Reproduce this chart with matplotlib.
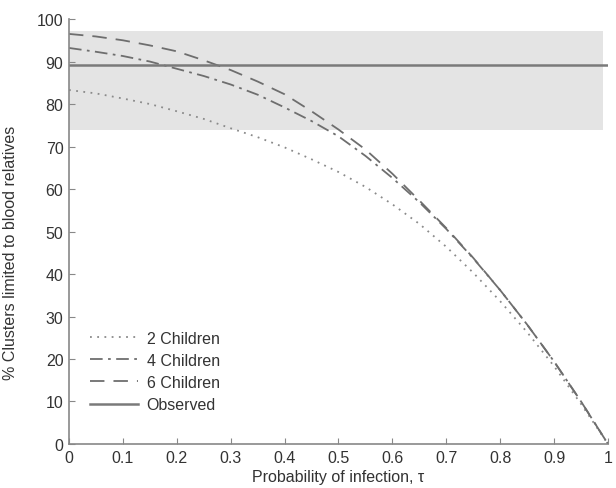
import matplotlib
matplotlib.use("Agg")
import matplotlib.pyplot as plt

plt.rcParams['font.family'] = ['Liberation Sans', 'DejaVu Sans']

# probability of infection
tau = [0.0, 0.05, 0.1, 0.15, 0.2, 0.25, 0.3, 0.35, 0.4, 0.45, 0.5,
       0.55, 0.6, 0.65, 0.7, 0.75, 0.8, 0.85, 0.9, 0.95, 1.0]

# % clusters limited to blood relatives
two_children = [83.3, 82.5, 81.3, 80.0, 78.3, 76.5, 74.3, 72.2, 69.8, 67.0, 64.0,
                60.5, 56.4, 51.8, 46.4, 40.3, 33.6, 26.3, 18.3, 9.4, 0.0]
four_children = [93.2, 92.3, 91.3, 90.0, 88.3, 86.6, 84.6, 82.2, 79.2, 76.0, 72.4,
                 67.8, 62.6, 56.9, 50.6, 43.7, 36.2, 28.1, 19.4, 10.0, 0.0]
six_children = [96.5, 95.9, 95.0, 93.8, 92.4, 90.3, 88.0, 85.3, 82.3, 78.3, 74.0,
                69.3, 63.6, 57.3, 50.8, 43.8, 36.2, 28.1, 19.4, 10.0, 0.0]

observed = 89.2
observed_low = 74.0
observed_high = 97.2

x_ticks = [0, 0.1, 0.2, 0.3, 0.4, 0.5, 0.6, 0.7, 0.8, 0.9, 1]
x_tick_labels = ['0', '0.1', '0.2', '0.3', '0.4', '0.5', '0.6', '0.7', '0.8', '0.9', '1']
y_ticks = [0, 10, 20, 30, 40, 50, 60, 70, 80, 90, 100]

fs = 11.5

fig = plt.figure(figsize=(6.16, 4.89), dpi=100)
ax = fig.add_axes([0.112, 0.09, 0.875, 0.869])

# confidence band of observed value
ax.fill_between([0, 0.99], observed_low, observed_high, color='#e4e4e4', lw=0, zorder=0)

line_col = '#6e6e6e'
ax.plot(tau, two_children, color='#8a8a8a', ls=(0, (1, 3)), lw=1.3, label='2 Children')
ax.plot(tau, four_children, color=line_col, ls=(0, (7, 3, 1.5, 3)), lw=1.3, label='4 Children')
ax.plot(tau, six_children, color=line_col, ls=(0, (8, 5)), lw=1.3, label='6 Children')
ax.plot([0, 1], [observed, observed], color='#7a7a7a', lw=1.8, label='Observed')

ax.set_xlim(0, 1)
ax.set_ylim(0, 100)
ax.set_xticks(x_ticks)
ax.set_xticklabels(x_tick_labels)
ax.set_yticks(y_ticks)

for s in ['top', 'right']:
    ax.spines[s].set_visible(False)
for s in ['left', 'bottom']:
    ax.spines[s].set_color('#888888')
    ax.spines[s].set_linewidth(1.2)
ax.tick_params(direction='in', length=4, color='#888888', labelsize=fs,
               labelcolor='#333333', pad=4)

ax.set_xlabel('Probability of infection, \u03c4', fontsize=fs, color='#333333', labelpad=3)
ax.set_ylabel('% Clusters limited to blood relatives', fontsize=fs, color='#333333')
ax.yaxis.set_label_coords(-0.095, 0.452)

leg = ax.legend(loc='lower left', bbox_to_anchor=(0.039, 0.075), frameon=False,
                fontsize=fs, handlelength=3.0, handletextpad=0.55, labelspacing=0.45,
                borderpad=0, borderaxespad=0)
for t in leg.get_texts():
    t.set_color('#333333')

fig.savefig('out.png', dpi=100)
